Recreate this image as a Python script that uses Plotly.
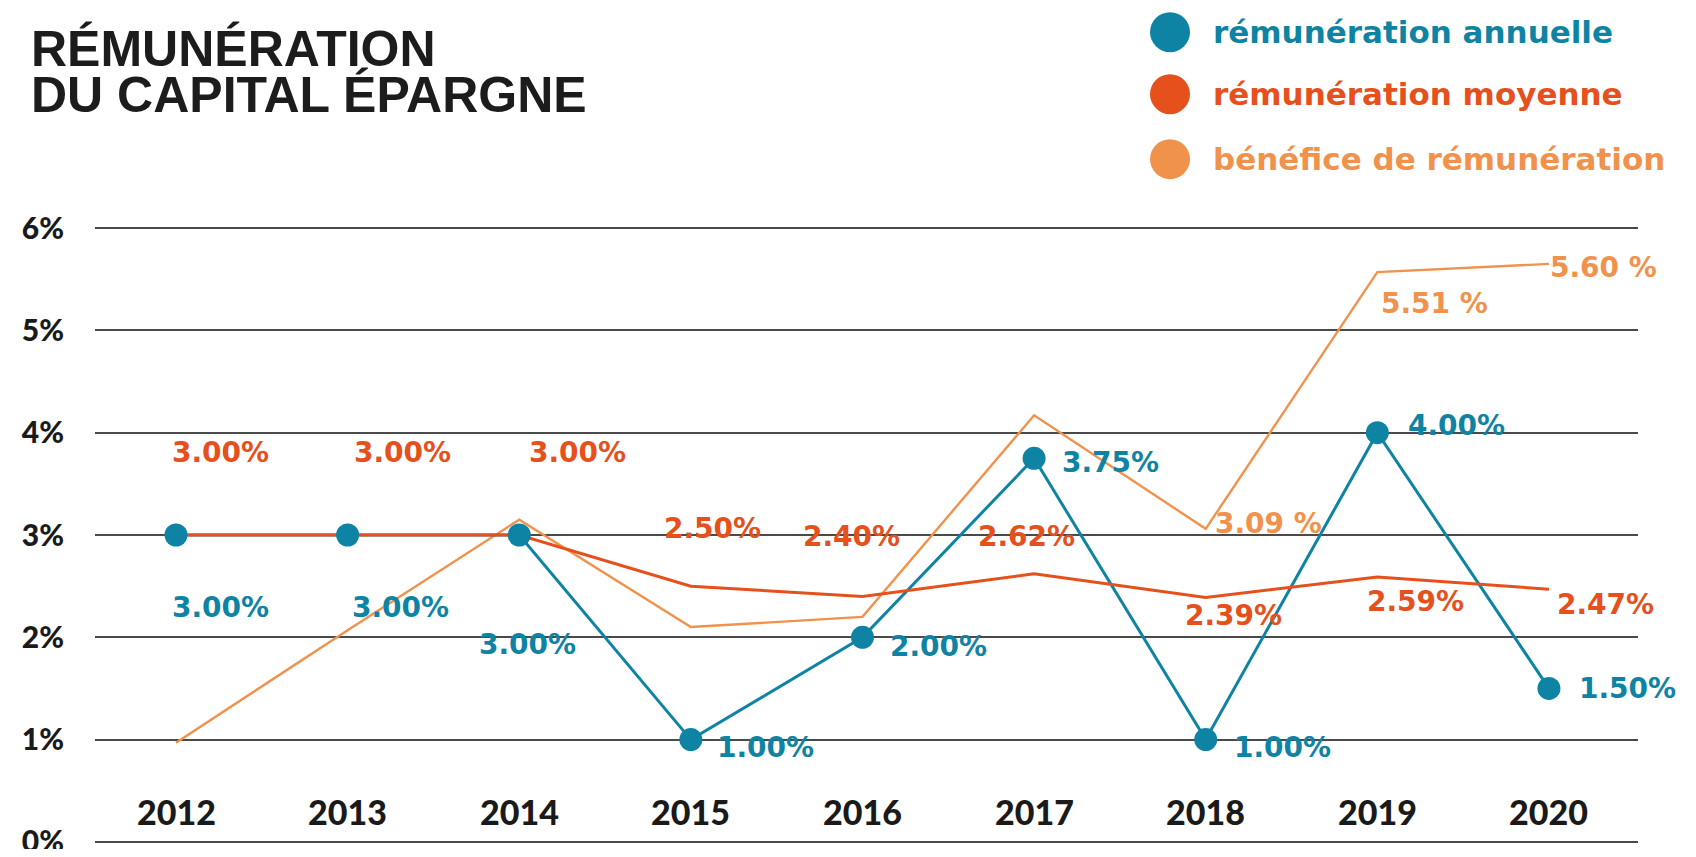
import plotly.graph_objects as go

years = [2012, 2013, 2014, 2015, 2016, 2017, 2018, 2019, 2020]
year_labels = ["2012", "2013", "2014", "2015", "2016", "2017", "2018", "2019", "2020"]

annuelle = [3.00, 3.00, 3.00, 1.00, 2.00, 3.75, 1.00, 4.00, 1.50]
annuelle_labels = ["3.00%", "3.00%", "3.00%", "1.00%", "2.00%", "3.75%", "1.00%", "4.00%", "1.50%"]

moyenne = [3.00, 3.00, 3.00, 2.50, 2.40, 2.62, 2.39, 2.59, 2.47]
moyenne_labels = ["3.00%", "3.00%", "3.00%", "2.50%", "2.40%", "2.62%", "2.39%", "2.59%", "2.47%"]

benefice = [0.97, 2.07, 3.15, 2.10, 2.20, 4.17, 3.06, 5.57, 5.65]
benefice_labels = ["", "", "", "", "", "", "3.09 %", "5.51 %", "5.60 %"]

y_ticks = [0, 1, 2, 3, 4, 5, 6]
y_tick_labels = ["0%", "1%", "2%", "3%", "4%", "5%", "6%"]

legend_names = ["rémunération annuelle", "rémunération moyenne", "bénéfice de rémunération"]

BLUE = "#0F83A3"
RED = "#E5501D"
ORANGE = "#F1924C"
GRID = "#4a4a4a"

# page body has an 8px margin: figure is offset by 8px
OFF = 8
W, H = 1696 - 2 * OFF, 857 - 2 * OFF
Y_LO, Y_HI = -0.05, 6.05
PX_PER_UNIT = (842 - 228) / 6.0
ML = 95 - OFF
MR = W - (1638 - OFF)
MT = (228 - (Y_HI - 6) * PX_PER_UNIT) - OFF
MB = H - ((842 - Y_LO * PX_PER_UNIT) - OFF)
PH = H - MT - MB
PW = W - ML - MR


def py(p):  # screenshot pixel -> paper
    return 1 - (p - OFF - MT) / PH


def px(p):
    return (p - OFF - ML) / PW


NUM_FONT = "DejaVu Sans"
AX_FONT = "Lato"

fig = go.Figure()

fig.add_trace(go.Scatter(x=years, y=benefice, mode="lines",
                         line=dict(color=ORANGE, width=2.4), cliponaxis=False,
                         showlegend=False, hoverinfo="skip"))
fig.add_trace(go.Scatter(x=years, y=annuelle, mode="lines",
                         line=dict(color=BLUE, width=3), cliponaxis=False,
                         showlegend=False))
fig.add_trace(go.Scatter(x=years, y=moyenne, mode="lines",
                         line=dict(color=RED, width=3), cliponaxis=False,
                         showlegend=False))
fig.add_trace(go.Scatter(x=years, y=annuelle, mode="markers",
                         marker=dict(color=BLUE, size=23), cliponaxis=False,
                         showlegend=False))

ann = []
blue_shift = [(44, -72), (53, -72), (8, -109), (75, -8), (76, -9), (76, -4), (77, -8), (79, 7), (79, 0)]
red_shift = [(44, 83), (55, 83), (58, 83), (22, 58), (-11, 60), (-8, 37), (28, -18), (38, -25), (57, -15)]
orange_shift = [(0, 0)] * 6 + [(63, 5), (57, -31), (55, -4)]

for i, yr in enumerate(years):
    dx, dy = blue_shift[i]
    ann.append(dict(x=yr, y=annuelle[i], text=annuelle_labels[i], xshift=dx, yshift=dy,
                    showarrow=False, font=dict(family=NUM_FONT, size=28, color=BLUE, weight="bold")))
    dx, dy = red_shift[i]
    ann.append(dict(x=yr, y=moyenne[i], text=moyenne_labels[i], xshift=dx, yshift=dy,
                    showarrow=False, font=dict(family=NUM_FONT, size=28, color=RED, weight="bold")))
    if benefice_labels[i]:
        dx, dy = orange_shift[i]
        ann.append(dict(x=yr, y=benefice[i], text=benefice_labels[i], xshift=dx, yshift=dy,
                        showarrow=False, font=dict(family=NUM_FONT, size=28, color=ORANGE, weight="bold")))
    ann.append(dict(x=yr, y=0.30, text=year_labels[i], showarrow=False,
                    font=dict(family=AX_FONT, size=34, color="#1a1a1a", weight=900)))

# title (two lines, tight leading)
ann.append(dict(xref="paper", yref="paper", x=px(29), y=py(79), xanchor="left", yanchor="bottom",
                text="RÉMUNÉRATION", showarrow=False,
                font=dict(family="Liberation Sans", size=50, color="#1c1c1c", weight="bold")))
ann.append(dict(xref="paper", yref="paper", x=px(29), y=py(125), xanchor="left", yanchor="bottom",
                text="DU CAPITAL ÉPARGNE", showarrow=False,
                font=dict(family="Liberation Sans", size=50, color="#1c1c1c", weight="bold")))

# legend
leg_colors = [BLUE, RED, ORANGE]
leg_y = [32, 94, 159]
shapes = []
for name, c, yy in zip(legend_names, leg_colors, leg_y):
    shapes.append(dict(type="circle", xref="paper", yref="paper",
                       x0=px(1150), x1=px(1190), y0=py(yy + 20), y1=py(yy - 20),
                       fillcolor=c, line=dict(width=0)))
    ann.append(dict(xref="paper", yref="paper", x=px(1211), y=py(yy), xanchor="left", yanchor="middle",
                    text=name, showarrow=False,
                    font=dict(family=NUM_FONT, size=31, color=c, weight="bold")))

fig.update_layout(
    width=W, height=H,
    margin=dict(l=ML, r=MR, t=MT, b=MB, autoexpand=False),
    paper_bgcolor="white", plot_bgcolor="white",
    showlegend=False,
    annotations=ann, shapes=shapes,
    xaxis=dict(range=[2011.528, 2020.519], showgrid=False, zeroline=False,
               showticklabels=False, showline=False, fixedrange=True, automargin=False),
    yaxis=dict(range=[Y_LO, Y_HI], tickvals=y_ticks, ticktext=y_tick_labels,
               showgrid=True, gridcolor=GRID, gridwidth=2,
               zeroline=True, zerolinecolor=GRID, zerolinewidth=2,
               showline=False, ticks="", ticklabelstandoff=30,
               ticklabeloverflow="allow", automargin=False,
               tickfont=dict(family=AX_FONT, size=30, color="#1a1a1a", weight=900),
               fixedrange=True),
)

fig.write_html("out.html")
